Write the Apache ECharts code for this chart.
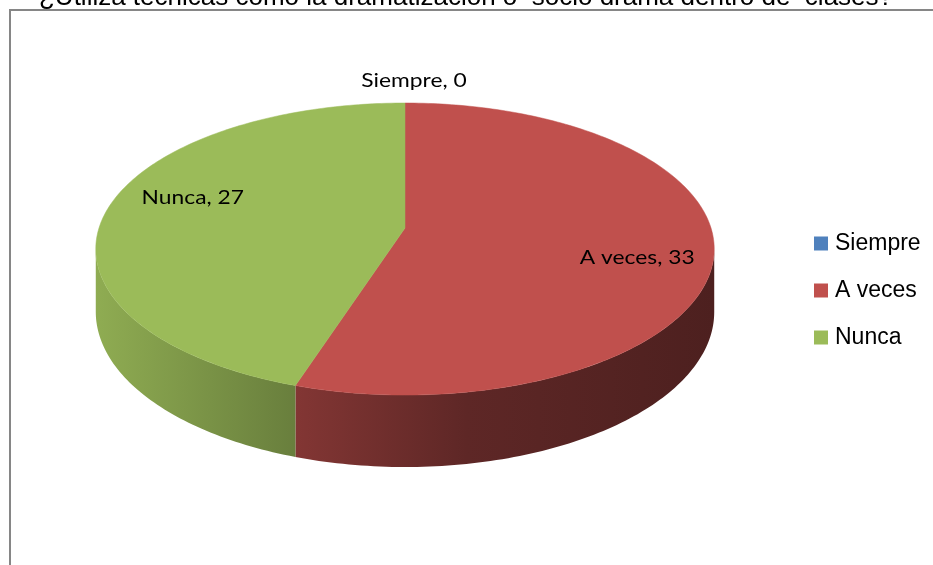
<!DOCTYPE html>
<html>
<head>
<meta charset="utf-8">
<title>Técnicas de dramatización</title>
<script src="https://cdn.jsdelivr.net/npm/echarts@6/dist/echarts.min.js"></script>
<style>
  html, body { margin: 0; padding: 0; background: #ffffff; }
  #chart { width: 933px; height: 565px; }
</style>
</head>
<body>
<div id="chart"></div>
<script>
// Survey answers
const categories = ['Siempre', 'A veces', 'Nunca'];
const values = [0, 33, 27];
const colors = ['#4F81BD', '#C0504D', '#9BBB59'];
const titleText = '¿Utiliza técnicas como la dramatización o  socio drama dentro de  clases?';

// 3D pie geometry (perspective projected disc)
const CX = 405, CY = 228;     // projected centre of the top face
const RX = 306;               // horizontal radius
const RY = 143;               // vertical radius before perspective
const P = 0.144;              // perspective strength
const DEPTH = 61.6;           // thickness of the disc
const X_LEFT = CX - RX * 1.0105, X_RIGHT = CX + RX * 1.0105;

// angle measured clockwise from 12 o'clock, f = radius fraction, dz = drop below top face
function project(theta, f, dz) {
  const u = f * Math.sin(theta);
  const v = -f * Math.cos(theta);
  const s = 1 / (1 - P * v);
  return [CX + RX * u * s, CY + RY * v * s + dz * s];
}

const total = values.reduce((a, b) => a + b, 0);
const startAngles = [];
values.reduce((acc, v, i) => { startAngles[i] = acc / total * Math.PI * 2; return acc + v; }, 0);

// the outer wall faces the viewer between the two silhouette angles
const WALL_A = Math.acos(-P);
const WALL_B = Math.PI * 2 - WALL_A;

function shade(hex, k) {
  const n = parseInt(hex.slice(1), 16);
  const r = Math.round(((n >> 16) & 255) * k);
  const g = Math.round(((n >> 8) & 255) * k);
  const b = Math.round((n & 255) * k);
  return 'rgb(' + r + ',' + g + ',' + b + ')';
}

function arcPoints(a0, a1, f, dz) {
  const pts = [];
  const steps = Math.max(2, Math.ceil((a1 - a0) / (Math.PI / 180)));
  for (let k = 0; k <= steps; k++) {
    pts.push(project(a0 + (a1 - a0) * k / steps, f, dz));
  }
  return pts;
}

function makeRenderItem(idx) {
  return function (params, api) {
    const value = api.value(1);
    const name = categories[idx];
    const color = colors[idx];
    const a0 = startAngles[idx];
    const a1 = a0 + value / total * Math.PI * 2;
    const children = [];

    if (value > 0) {
      // outer wall
      const lo = Math.max(a0, WALL_A), hi = Math.min(a1, WALL_B);
      if (hi > lo) {
        const top = arcPoints(lo, hi, 1, 0);
        const bottom = arcPoints(lo, hi, 1, DEPTH).reverse();
        children.push({
          type: 'polygon',
          z2: 1,
          shape: { points: top.concat(bottom) },
          style: {
            fill: new echarts.graphic.LinearGradient(X_LEFT, 0, X_RIGHT, 0, [
              { offset: 0, color: shade(color, 0.92) },
              { offset: 0.32, color: shade(color, 0.68) },
              { offset: 0.6, color: shade(color, 0.49) },
              { offset: 1, color: shade(color, 0.40) }
            ], true),
            stroke: null
          }
        });
      }
      // top face
      const face = [project(0, 0, 0)].concat(arcPoints(a0, a1, 1, 0));
      children.push({
        type: 'polygon',
        z2: 10,
        shape: { points: face },
        style: { fill: color, stroke: color, lineWidth: 0.5 }
      });
    }

    // data label
    const mid = (a0 + a1) / 2;
    let lx, ly;
    if (value > 0) {
      lx = CX + 10 + 225 * Math.sin(mid);
      ly = CY - 192 * Math.cos(mid);
    } else {
      const rim = project(mid, 1, 0);
      lx = rim[0] + 9;
      ly = rim[1] - 22;
    }
    children.push({
      type: 'text',
      z2: 20,
      x: lx,
      y: ly,
      scaleX: 1.14,
      style: {
        text: name + ', ' + value,
        fill: '#000000',
        font: '20px Lato',
        align: 'center',
        verticalAlign: 'middle'
      }
    });

    return { type: 'group', children: children };
  };
}

const chart = echarts.init(document.getElementById('chart'), null, { renderer: 'canvas' });

const option = {
  backgroundColor: '#ffffff',
  animation: false,
  color: colors,
  legend: {
    orient: 'vertical',
    left: 814,
    top: 232,
    padding: 0,
    icon: 'rect',
    itemWidth: 14,
    itemHeight: 14,
    itemGap: 24,
    selectedMode: false,
    data: categories,
    textStyle: {
      fontFamily: 'Liberation Sans',
      fontSize: 23,
      color: '#000000',
      padding: [0, 0, 0, 2]
    }
  },
  graphic: [
    {
      type: 'rect',
      shape: { x: 10, y: 10, width: 1200, height: 1200 },
      style: { fill: null, stroke: '#868686', lineWidth: 2 },
      z: 0
    },
    {
      type: 'text',
      x: 466,
      y: -2.5,
      style: {
        text: titleText,
        font: '26px "Liberation Sans"',
        fill: '#000000',
        align: 'center',
        verticalAlign: 'middle'
      },
      z: 5
    }
  ],
  series: categories.map((name, i) => ({
    type: 'custom',
    name: name,
    coordinateSystem: 'none',
    itemStyle: { color: colors[i] },
    renderItem: makeRenderItem(i),
    data: [[name, values[i]]]
  }))
};

chart.setOption(option);
</script>
</body>
</html>
